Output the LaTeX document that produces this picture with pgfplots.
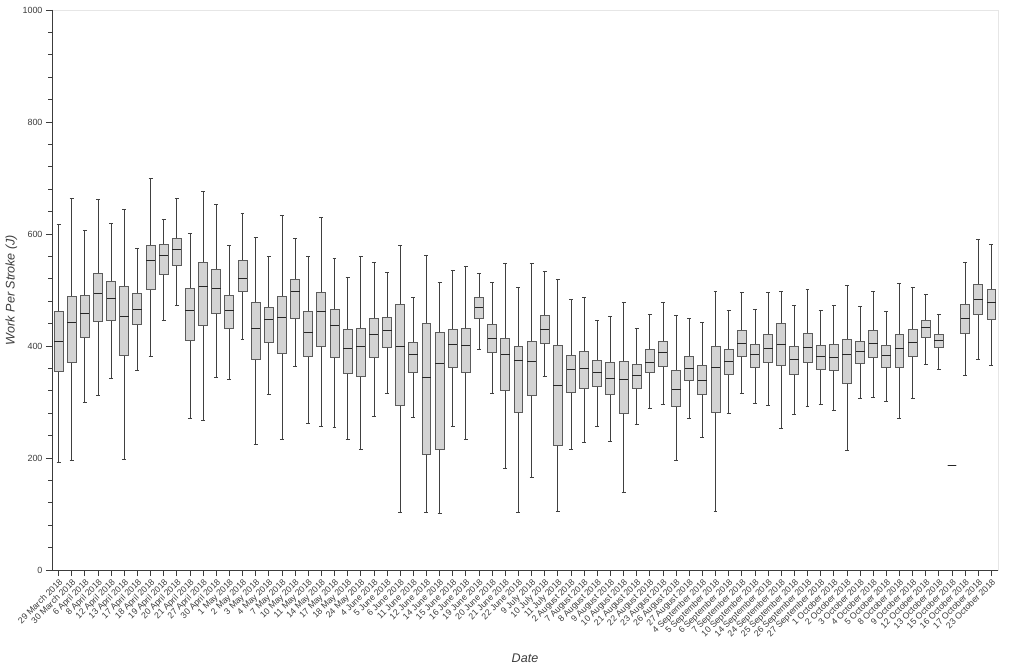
\documentclass[border=0pt]{standalone}
\usepackage{pgfplots}
\pgfplotsset{compat=1.18}
\usepackage{pgfplotstable}
\usepgfplotslibrary{statistics}
\usepackage{fontspec}
\setmainfont{Liberation Sans}

\definecolor{boxfill}{HTML}{D3D3D3}
\definecolor{boxedge}{HTML}{5C5C5C}
\definecolor{axisgray}{HTML}{3C3C3C}
\definecolor{framegray}{HTML}{E6E6E6}

% one row per session: lower whisker, quartiles, median, upper whisker
\pgfplotstableread{
lw lq med uq uw
193 354 408 461 618
195 371 442 488 663
300 415 458 491 606
311 443 494 530 662
343 446 485 516 619
197 383 453 506 644
356 438 465 493 574
382 501 552 580 700
445 527 561 582 626
472 544 572 592 663
271 410 463 503 601
268 437 507 550 676
344 459 502 536 652
341 431 464 490 580
412 497 521 553 637
224 376 432 478 594
313 406 447 468 560
233 386 450 488 633
364 450 498 518 592
262 382 424 461 560
256 400 461 495 630
255 380 437 465 557
233 351 396 429 523
215 345 399 432 560
274 380 421 450 549
316 397 427 451 531
102 294 399 474 579
272 352 385 406 486
103 206 343 441 561
101 215 369 424 513
256 361 402 430 535
233 352 400 432 542
394 450 468 487 529
315 389 414 439 513
182 320 384 413 547
103 281 374 399 505
165 312 373 409 547
346 404 430 455 533
104 222 329 401 519
216 317 358 384 484
228 325 360 390 487
257 328 352 374 445
230 314 342 370 453
138 280 341 373 477
260 324 347 367 431
288 352 371 394 456
296 364 389 409 478
195 292 322 357 455
271 338 359 382 449
236 314 339 366 443
104 282 361 399 497
280 349 373 394 463
315 382 404 427 495
297 361 384 403 466
294 370 395 420 495
253 366 402 441 498
277 350 376 399 472
293 371 398 423 501
296 358 381 401 464
285 356 379 402 472
214 333 385 412 508
306 368 390 408 470
309 380 405 427 497
301 361 383 401 461
270 361 396 421 512
307 381 407 430 504
368 415 433 446 492
359 397 409 421 456
187 187 187 187 187
347 423 449 474 550
376 457 483 510 591
366 447 478 501 582
}\strokes

\begin{document}
\begin{tikzpicture}
\begin{axis}[
  scale only axis,
  width=946bp, height=560bp,
  xmin=0.5, xmax=72.5,
  ymin=0, ymax=1000,
  ytick={0,200,...,1000},
  minor y tick num=4,
  xtick={1,...,72},
  xticklabels={29 March 2018,30 March 2018,6 April 2018,8 April 2018,12 April 2018,13 April 2018,17 April 2018,18 April 2018,19 April 2018,20 April 2018,21 April 2018,27 April 2018,30 April 2018,1 May 2018,2 May 2018,3 May 2018,4 May 2018,7 May 2018,10 May 2018,11 May 2018,14 May 2018,17 May 2018,18 May 2018,24 May 2018,4 June 2018,5 June 2018,6 June 2018,11 June 2018,12 June 2018,14 June 2018,15 June 2018,16 June 2018,19 June 2018,20 June 2018,21 June 2018,22 June 2018,9 July 2018,10 July 2018,11 July 2018,2 August 2018,7 August 2018,8 August 2018,9 August 2018,10 August 2018,21 August 2018,22 August 2018,23 August 2018,26 August 2018,27 August 2018,4 September 2018,5 September 2018,6 September 2018,7 September 2018,10 September 2018,14 September 2018,24 September 2018,25 September 2018,26 September 2018,27 September 2018,1 October 2018,2 October 2018,3 October 2018,4 October 2018,5 October 2018,8 October 2018,9 October 2018,12 October 2018,13 October 2018,15 October 2018,16 October 2018,17 October 2018,23 October 2018},
  tick pos=left,
  tick align=outside,
  major tick length=6bp,
  minor tick length=3.5bp,
  tick style={axisgray, line width=0.8bp},
  axis line style={framegray, line width=0.8bp},
  xticklabel style={rotate=45, anchor=north east, inner sep=1.5pt, font=\fontsize{8.8}{9}\selectfont, text=axisgray},
  yticklabel style={font=\fontsize{9}{10}\selectfont, text=axisgray},
  /pgf/number format/assume math mode=true,
  /pgf/number format/1000 sep={},
  ylabel={Work Per Stroke (J)},
  xlabel={Date},
  every axis y label/.style={at={(axis description cs:-0.043,0.5)}, rotate=90, anchor=center, font=\fontsize{12.6}{13}\selectfont\itshape, text=axisgray},
  every axis x label/.style={at={(axis description cs:0.5,-0.157)}, anchor=center, font=\fontsize{12.6}{13}\selectfont\itshape, text=axisgray},
  boxplot/draw direction=y,
  boxplot/box extend=0.68,
  boxplot/whisker extend=0.3,
  boxplot/every box/.style={draw=boxedge, fill=boxfill, line width=0.9bp},
  boxplot/every median/.style={draw=black!85, line width=1bp},
  boxplot/every whisker/.style={draw=black!75, line width=0.8bp},
]
\pgfplotstablegetrowsof{\strokes}
\pgfmathtruncatemacro\lastrow{\pgfplotsretval-1}
\pgfplotsinvokeforeach{0,...,\lastrow}{
  \pgfplotstablegetelem{#1}{lw}\of\strokes \edef\vlw{\pgfplotsretval}
  \pgfplotstablegetelem{#1}{lq}\of\strokes \edef\vlq{\pgfplotsretval}
  \pgfplotstablegetelem{#1}{med}\of\strokes \edef\vmed{\pgfplotsretval}
  \pgfplotstablegetelem{#1}{uq}\of\strokes \edef\vuq{\pgfplotsretval}
  \pgfplotstablegetelem{#1}{uw}\of\strokes \edef\vuw{\pgfplotsretval}
  \pgfmathtruncatemacro\vpos{#1+1}
  \edef\doplot{\noexpand\addplot[boxplot prepared={draw position=\vpos,
      lower whisker=\vlw, lower quartile=\vlq, median=\vmed,
      upper quartile=\vuq, upper whisker=\vuw}] coordinates {};}
  \doplot
}
\draw[axisgray, line width=0.9bp] (rel axis cs:0,1) -- (rel axis cs:0,0) -- (rel axis cs:1,0);
\coordinate (sw) at (rel axis cs:0,0);
\end{axis}
\pgfresetboundingbox
\path (sw) ++(-52bp,-97bp) rectangle ++(1024bp,667bp);
\end{tikzpicture}
\end{document}
